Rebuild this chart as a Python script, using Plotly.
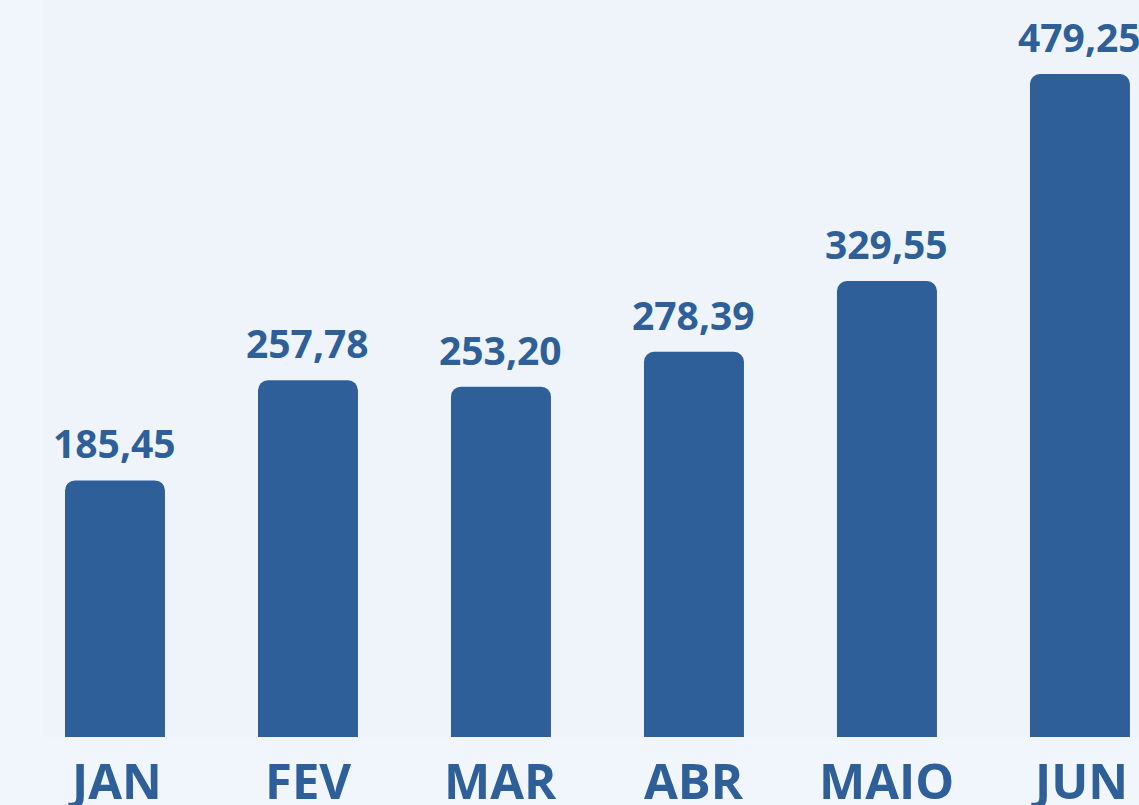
import plotly.graph_objects as go

months = ["JAN", "FEV", "MAR", "ABR", "MAIO", "JUN"]
values = [185.45, 257.78, 253.20, 278.39, 329.55, 479.25]
value_labels = ["185,45", "257,78", "253,20", "278,39", "329,55", "479,25"]

bar_color = "#2e5f98"
font_family = "Open Sans"

fig = go.Figure()
fig.add_trace(go.Bar(
    x=list(range(len(months))),
    y=values,
    width=0.518,
    marker=dict(color=bar_color, line=dict(width=0), cornerradius=10),
    hoverinfo="skip",
))

annotations = []
for i, (v, lab) in enumerate(zip(values, value_labels)):
    annotations.append(dict(
        x=i, y=v, xref="x", yref="y", text=lab, showarrow=False,
        yanchor="bottom", yshift=9,
        font=dict(family=font_family, size=39, color=bar_color, weight=700),
    ))
for i, m in enumerate(months):
    annotations.append(dict(
        x=i, y=0, xref="x", yref="paper", text=m, showarrow=False,
        yanchor="top", yshift=-8,
        font=dict(family=font_family, size=49, color=bar_color, weight=700),
    ))

fig.update_layout(
    width=1139, height=805,
    margin=dict(l=43, r=0, t=0, b=68),
    paper_bgcolor="#f1f6fd",
    plot_bgcolor="#eef4f9",
    showlegend=False,
    annotations=annotations,
    xaxis=dict(range=[-0.373, 5.306], visible=False, fixedrange=True),
    yaxis=dict(range=[0, 532.7], visible=False, fixedrange=True),
)

fig.write_html(
    "out.html",
    config={"displayModeBar": False},
    post_script="document.body.style.margin='0';document.body.style.overflow='hidden';",
)
